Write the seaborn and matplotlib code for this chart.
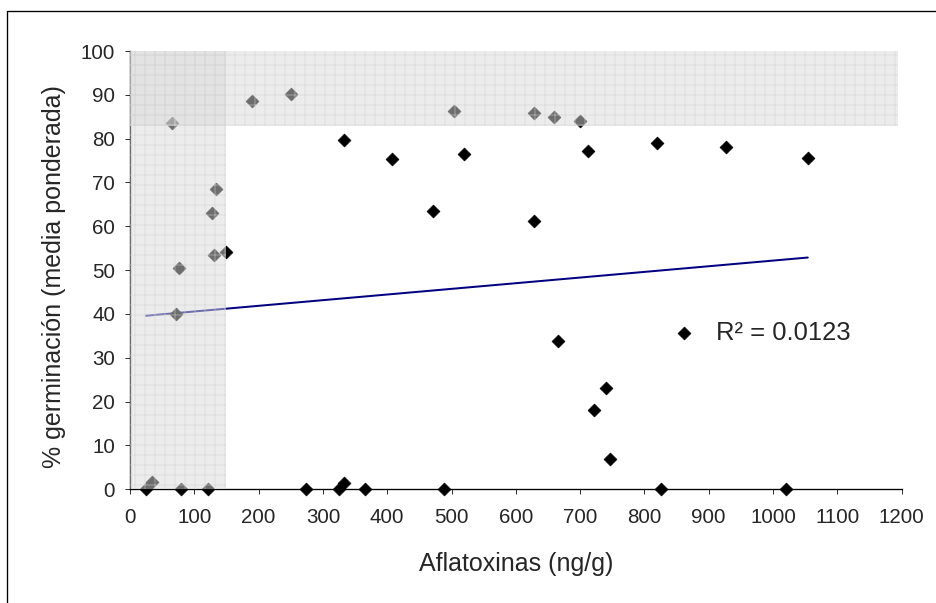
"""Germinación frente a aflatoxinas, con zonas sombreadas y recta de tendencia."""
import numpy as np
import pandas as pd
import matplotlib
matplotlib.use("Agg")
import matplotlib.pyplot as plt
from matplotlib.patches import Rectangle
import seaborn as sns

# valores
aflatoxinas = [65, 189, 251, 133, 127, 130.6, 149, 76.7, 71.5,
               24.9, 33.7, 80, 121, 273.6, 325, 332.6, 366, 488,
               503.7, 628, 659, 699.6, 519, 712, 820, 926.6, 1054,
               471.5, 628, 332.7, 407, 665, 739.5, 721, 746, 826.5, 1020]
germinacion = [83.5, 88.6, 90.3, 68.5, 63.1, 53.4, 54.2, 50.5, 40.1,
               0, 1.7, 0, 0, 0, 0, 1.4, 0, 0,
               86.4, 85.9, 84.9, 84.0, 76.6, 77.2, 78.9, 78.0, 75.7,
               63.4, 61.1, 79.8, 75.3, 33.8, 23.2, 18.2, 6.8, 0, 0]
# recta de tendencia de Excel
tendencia_pendiente = 0.0129
tendencia_ordenada = 39.28
r2_label = "R² = 0.0123"
x_ticks = list(range(0, 1201, 100))
y_ticks = list(range(0, 101, 10))
zona_afla = (0, 150)      # banda vertical
zona_germ = (83, 100)     # banda horizontal

df = pd.DataFrame({"afla": aflatoxinas, "germ": germinacion})
x_fit = np.array([df.afla.min(), df.afla.max()])
fit = pd.DataFrame({"afla": x_fit,
                    "germ": tendencia_ordenada + tendencia_pendiente * x_fit})

sns.set_style("white")
plt.rcParams["font.family"] = ["Liberation Sans", "DejaVu Sans"]

fig = plt.figure(figsize=(7.8, 5.025), dpi=120)
ax = fig.add_axes([0.1389, 0.1886, 0.9633 - 0.1389, 0.9154 - 0.1886])

sns.lineplot(data=fit, x="afla", y="germ", color="#000080", lw=1.2,
             zorder=2, ax=ax, legend=False)
sns.scatterplot(data=df, x="afla", y="germ", marker="D", s=30, color="black",
                edgecolor="black", linewidth=0.4, zorder=2, clip_on=False, ax=ax,
                label=r2_label)

plt.rcParams["hatch.linewidth"] = 0.6
for span in (ax.axvspan(*zona_afla, ymin=0, ymax=1),
             ax.axhspan(*zona_germ, xmin=0, xmax=1194 / 1200)):
    span.set_facecolor((0.86, 0.86, 0.86))
    span.set_edgecolor((0.82, 0.82, 0.82))
    span.set_hatch("++")
    span.set_linewidth(0)
    span.set_alpha(0.5)
    span.set_zorder(3)

ax.set_xlim(0, 1200)
ax.set_ylim(0, 100)
ax.set_xticks(x_ticks)
ax.set_yticks(y_ticks)
ax.tick_params(axis="both", labelsize=12.3, length=3, width=0.6, color="#333333",
               direction="out", bottom=True, left=True)
ax.tick_params(axis="x", pad=8)
ax.tick_params(axis="y", pad=6)
for side in ("top", "right"):
    ax.spines[side].set_visible(False)
for side in ("left", "bottom"):
    ax.spines[side].set_color("black")
    ax.spines[side].set_linewidth(0.8)

ax.set_xlabel("Aflatoxinas (ng/g)", fontsize=15)
ax.set_ylabel("% germinación (media ponderada)", fontsize=15)
ax.xaxis.set_label_coords(0.5, -0.142)
ax.yaxis.set_label_coords(-0.083, 0.4855)

ax.legend(loc="center left", bbox_to_anchor=(670.9 / 936, 1 - 333 / 603),
          bbox_transform=fig.transFigure, frameon=False, fontsize=15.4,
          borderpad=0, borderaxespad=0, handlelength=1.0, handletextpad=0.75,
          markerscale=1.0)

# marco exterior del gráfico
fig.patches.append(Rectangle((7.3 / 936, -0.2), 1.2, 1.2 - 11 / 603,
                             transform=fig.transFigure, fill=False,
                             edgecolor="black", linewidth=0.8))

fig.savefig("out.png", dpi=120)
